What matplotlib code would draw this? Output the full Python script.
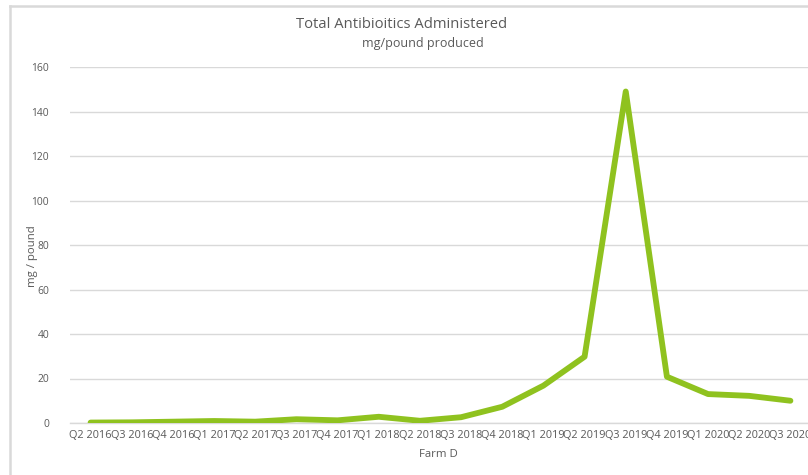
import matplotlib
matplotlib.use("Agg")
import matplotlib.pyplot as plt
from matplotlib.lines import Line2D

# Quarterly antibiotic use for Farm D
quarters = ["Q2 2016", "Q3 2016", "Q4 2016", "Q1 2017", "Q2 2017", "Q3 2017",
            "Q4 2017", "Q1 2018", "Q2 2018", "Q3 2018", "Q4 2018", "Q1 2019",
            "Q2 2019", "Q3 2019", "Q4 2019", "Q1 2020", "Q2 2020", "Q3 2020"]
mg_per_pound = [0.2, 0.3, 0.6, 0.9, 0.6, 1.7, 1.2, 2.8, 1.0, 2.6, 7.3, 16.8,
                29.8, 149.0, 20.8, 13.0, 12.2, 10.0]
y_ticks = [0, 20, 40, 60, 80, 100, 120, 140, 160]

W, H = 808, 475
fig = plt.figure(figsize=(W / 100, H / 100), dpi=100)
plt.rcParams['font.family'] = ['Open Sans', 'DejaVu Sans']

text_color = "#595959"
grid_color = "#D9D9D9"
line_color = "#8FC21F"

# plot area in pixel terms
left_px, right_px = 70, 811
top_px, bottom_px = 67, 423
ax = fig.add_axes([left_px / W, 1 - bottom_px / H,
                   (right_px - left_px) / W, (bottom_px - top_px) / H])

x = list(range(len(quarters)))
ax.plot(x, mg_per_pound, color=line_color, linewidth=4.2,
        solid_capstyle="round", solid_joinstyle="round", zorder=3)

ax.set_xlim(-0.5, len(quarters) - 0.5)
ax.set_ylim(0, 160)
ax.set_yticks(y_ticks)
ax.set_xticks(x)
ax.set_xticklabels(quarters)
ax.tick_params(axis="both", length=0, colors=text_color)
ax.tick_params(axis="x", pad=5, labelsize=7.8)
ax.tick_params(axis="y", pad=15, labelsize=7.4)

ax.grid(axis="y", color=grid_color, linewidth=1.0, zorder=0)
for side in ["top", "right", "left"]:
    ax.spines[side].set_visible(False)
ax.spines["bottom"].set_color(grid_color)
ax.spines["bottom"].set_linewidth(1.0)

ax.set_xlabel("Farm D", fontsize=8.2, color=text_color)
ax.set_ylabel("mg / pound", fontsize=8.2, color=text_color)
ax.yaxis.set_label_coords((38 - left_px) / (right_px - left_px), 0.47)
ax.xaxis.set_label_coords((438 - left_px) / (right_px - left_px),
                          -(449 - bottom_px) / (bottom_px - top_px))

fig.text(402 / W, 1 - 24 / H, "Total Antibioitics Administered",
         ha="center", va="center", fontsize=10.6, color=text_color)
fig.text(423 / W, 1 - 44 / H, "mg/pound produced",
         ha="center", va="center", fontsize=9.0, color=text_color)

# chart frame
fig.add_artist(Line2D([10 / W, 10 / W], [0, 1 - 6 / H], transform=fig.transFigure,
                      color=grid_color, linewidth=1.8))
fig.add_artist(Line2D([10 / W, 1], [1 - 6 / H, 1 - 6 / H], transform=fig.transFigure,
                      color=grid_color, linewidth=1.8))

fig.savefig("out.png", dpi=100, facecolor="white")
